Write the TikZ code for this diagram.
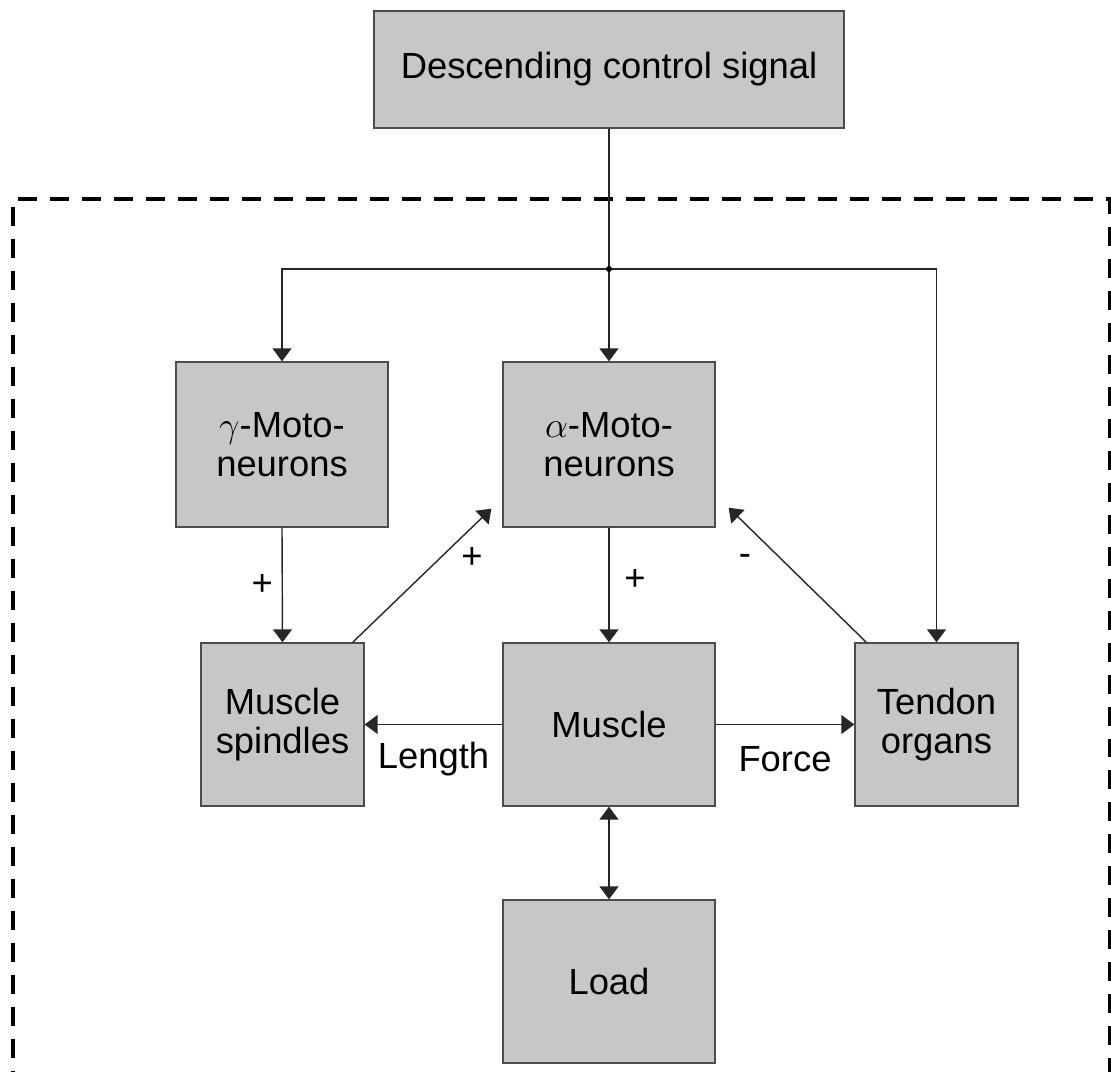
\documentclass[tikz,border=0pt]{standalone}
\usepackage{fontspec}
\setmainfont{Liberation Sans}
\usetikzlibrary{arrows.meta}

\tikzset{tri/.tip={Triangle[width=0.38cm,length=0.26cm]}}

\begin{document}
\begin{tikzpicture}
[x=0.02cm, y=-0.02cm,
 box/.style={rectangle,draw=black!70,fill=black!22,line width=0.8pt,
   align=center,font=\fontsize{20.7}{22}\selectfont},
 link/.style={draw=black!85,line width=0.8pt,-tri},
 sign/.style={font=\fontsize{20.7}{22}\selectfont}]

\useasboundingbox (0,0) rectangle (1111,1071);

\draw [line width=2.8pt, dash pattern=on 0.38cm off 0.26cm]
  (13,1090) -- (13,199) -- (1110,199) -- (1110,1090);

\node [box, minimum width=9.4cm, minimum height=2.34cm] (desc) at (609,69.5)
  {Descending control signal};
\node [box, minimum width=4.24cm, minimum height=3.3cm] (gmn) at (282,444.5)
  {$\gamma$-Moto-\\neurons};
\node [box, minimum width=4.24cm, minimum height=3.3cm] (amn) at (609,444.5)
  {$\alpha$-Moto-\\neurons};
\node [box, minimum width=3.26cm, minimum height=3.26cm] (spindle) at (282.5,724.5)
  {Muscle\\spindles};
\node [box, minimum width=4.24cm, minimum height=3.26cm] (muscle) at (609,724.5)
  {Muscle};
\node [box, minimum width=3.26cm, minimum height=3.26cm] (tendon) at (936.5,724.5)
  {Tendon\\organs};
\node [box, minimum width=4.24cm, minimum height=3.26cm] (load) at (609,981.5)
  {Load};

\coordinate (split) at (609,269);
\draw [link] (desc) -- (amn);
\draw [link] (split) -| (gmn);
\draw [link] (split) -| (tendon);
\fill [black] (split) circle (0.06cm);

\draw [link] (gmn.south) -- node [sign, xshift=-0.4cm] {+} (spindle.north);
\draw [link] ([xshift=-0.24cm]spindle.north east) --
  node [sign, xshift=1cm, yshift=0.36cm] {+}
  ([xshift=-0.22cm, yshift=0.38cm]amn.south west);
\draw [link] ([xshift=0.24cm]tendon.north west) --
  node [sign, xshift=-1.05cm, yshift=0.3cm] {-}
  ([xshift=0.26cm, yshift=0.4cm]amn.south east);
\draw [link] (amn) -- node [sign, xshift=0.52cm, yshift=0.1cm] {+} (muscle);
\draw [link] (muscle) -- node [sign, yshift=-0.7cm] {Length} (spindle);
\draw [link] (muscle) -- node [sign, yshift=-0.7cm] {Force} (tendon);
\draw [link, tri-tri] (muscle) -- (load);
\end{tikzpicture}
\end{document}
